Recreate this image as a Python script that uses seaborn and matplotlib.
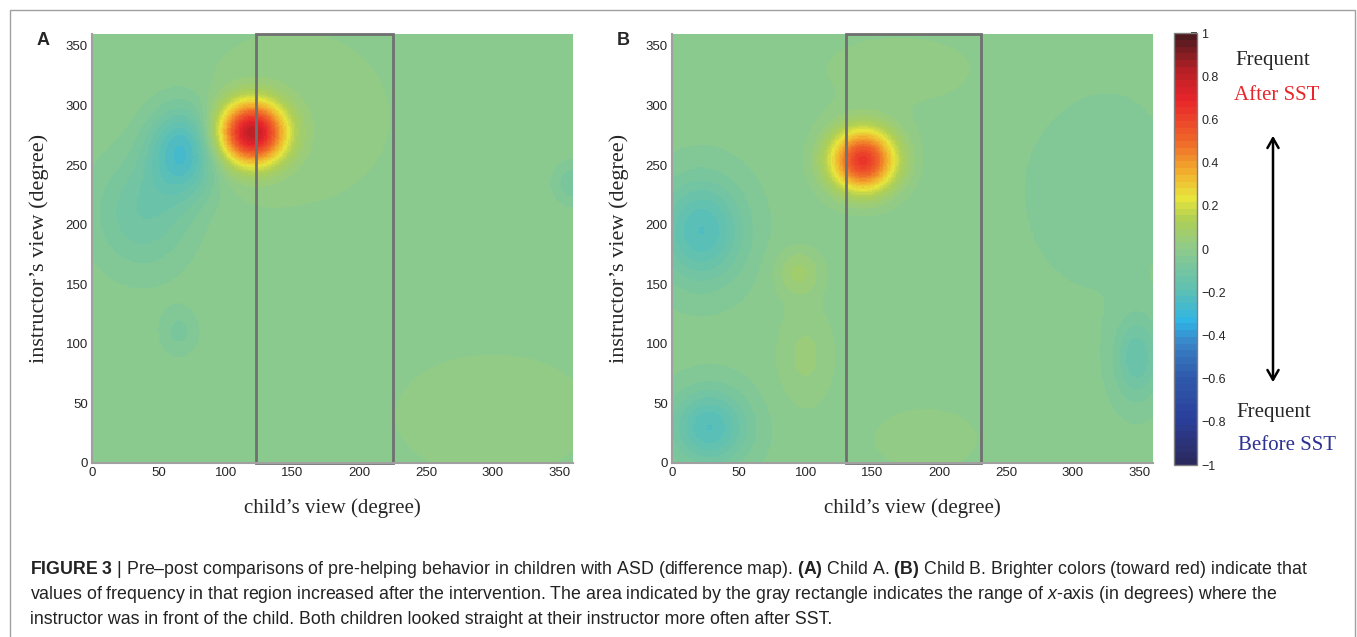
import numpy as np
import pandas as pd
import matplotlib
matplotlib.use("Agg")
import matplotlib.pyplot as plt
import seaborn as sns
from matplotlib.colors import LinearSegmentedColormap
from matplotlib.patches import Rectangle, FancyArrowPatch

# hot/cold spots
# (centre in degrees, peak value, spread in degrees)
a_cx = [120, 68, 38, 65, 300, 360, 150]
a_cy = [277, 262, 210, 110, 40, 235, 290]
a_amp = [0.80, -0.24, -0.11, -0.06, 0.035, -0.08, 0.025]
a_sx = [17, 18, 26, 10, 50, 10, 60]
a_sy = [18, 26, 34, 14, 35, 12, 60]
a_base = -0.012
a_front = [123, 225]

b_cx = [143, 22, 28, 348, 95, 100, 190, 320, 170]
b_cy = [254, 195, 30, 88, 160, 90, 20, 230, 330]
b_amp = [0.66, -0.20, -0.20, -0.13, 0.09, 0.06, 0.045, -0.03, 0.03]
b_sx = [17, 22, 20, 12, 12, 15, 30, 40, 60]
b_sy = [18, 30, 22, 25, 14, 30, 20, 60, 30]
b_base = -0.02
b_front = [130, 231]

deg_ticks = [0, 50, 100, 150, 200, 250, 300, 350]
cbar_ticks = [-1, -0.8, -0.6, -0.4, -0.2, 0, 0.2, 0.4, 0.6, 0.8, 1]
cbar_labels = ["\u22121", "\u22120.8", "\u22120.6", "\u22120.4", "\u22120.2", "0",
               "0.2", "0.4", "0.6", "0.8", "1"]

caption = [
    "$\\bf{FIGURE\\ 3}$ | Pre\u2013post comparisons of pre-helping behavior in children with ASD (difference map). "
    "$\\bf{(A)}$ Child A. $\\bf{(B)}$ Child B. Brighter colors (toward red) indicate that",
    "values of frequency in that region increased after the intervention. The area indicated by the gray rectangle "
    "indicates the range of $\\it{x}$-axis (in degrees) where the",
    "instructor was in front of the child. Both children looked straight at their instructor more often after SST.",
]


def diff_map(cx, cy, amp, sx, sy, base):
    g = np.arange(360) + 0.5
    xx, yy = np.meshgrid(g, g)
    z = np.full(xx.shape, base)
    for i in range(len(cx)):
        z += amp[i] * np.exp(-((xx - cx[i]) ** 2 / (2 * sx[i] ** 2) + (yy - cy[i]) ** 2 / (2 * sy[i] ** 2)))
    return pd.DataFrame(z, index=np.arange(360), columns=np.arange(360))


sns.set_theme(style="white")
plt.rcParams["font.family"] = ["Liberation Sans", "DejaVu Sans"]
plt.rcParams["mathtext.fontset"] = "custom"
plt.rcParams["mathtext.rm"] = "Liberation Sans"
plt.rcParams["mathtext.bf"] = "Liberation Sans:bold"
plt.rcParams["mathtext.it"] = "Liberation Sans:italic"

# muted jet, as in the printed figure
cmap = LinearSegmentedColormap.from_list("mjet", [
    (0.00, "#2b2a5e"), (0.10, "#2b3f9a"), (0.20, "#2f5aab"), (0.28, "#3a84c8"),
    (0.33, "#2fb5e6"), (0.40, "#5cbfb4"), (0.50, "#8ecb8c"), (0.57, "#b0cf55"),
    (0.62, "#e8e43c"), (0.68, "#f2b02e"), (0.75, "#ef6a2a"), (0.85, "#e8252a"),
    (0.92, "#b52026"), (1.00, "#4e1a1e")], N=64)

fig = plt.figure(figsize=(13.57, 6.37), dpi=100)
ax_a = fig.add_axes([0.0678, 0.2732, 0.3545, 0.6735])
ax_b = fig.add_axes([0.4952, 0.2732, 0.3545, 0.6735])
cax = fig.add_axes([0.8651, 0.270, 0.017, 0.678])

panels = [
    (ax_a, diff_map(a_cx, a_cy, a_amp, a_sx, a_sy, a_base), a_front, "A"),
    (ax_b, diff_map(b_cx, b_cy, b_amp, b_sx, b_sy, b_base), b_front, "B"),
]
for ax, df, front, tag in panels:
    sns.heatmap(df, ax=ax, cmap=cmap, vmin=-1, vmax=1, cbar=(tag == "B"),
                cbar_ax=cax if tag == "B" else None,
                xticklabels=False, yticklabels=False, rasterized=True)
    ax.invert_yaxis()
    ax.set_xticks(deg_ticks)
    ax.set_xticklabels([str(t) for t in deg_ticks], fontsize=9.5)
    ax.set_yticks(deg_ticks)
    ax.set_yticklabels([str(t) for t in deg_ticks], fontsize=9.5, rotation=0)
    ax.tick_params(length=0, pad=3)
    for s in ["left", "bottom"]:
        ax.spines[s].set_visible(True)
        ax.spines[s].set_color("#a0a0a0")
        ax.spines[s].set_linewidth(1.5)
    ax.add_patch(Rectangle((front[0], 0), front[1] - front[0], 360, fill=False,
                           edgecolor="#707070", lw=2, clip_on=False))
    ax.set_xlabel("child\u2019s view (degree)", family="Liberation Serif", fontsize=15, labelpad=14)
    ax.set_ylabel("instructor\u2019s view (degree)", family="Liberation Serif", fontsize=16, labelpad=12)
    ax.text(-0.115, 0.985, tag, transform=ax.transAxes, fontsize=13, fontweight="bold",
            ha="left", va="center")

cb = ax_b.collections[0].colorbar
cb.set_ticks(cbar_ticks)
cb.set_ticklabels(cbar_labels)
cb.ax.tick_params(labelsize=9, length=4, direction="in", pad=3)
cb.outline.set_edgecolor("#808080")
cb.outline.set_linewidth(1)

W, H = 1357, 637
serif = "Liberation Serif"
fig.text(1273 / W, 1 - 61 / H, "Frequent", family=serif, fontsize=15, ha="center", va="center")
fig.text(1277 / W, 1 - 95 / H, "After SST", family=serif, fontsize=15, ha="center", va="center", color="#e8262a")
fig.text(1274 / W, 1 - 413 / H, "Frequent", family=serif, fontsize=15, ha="center", va="center")
fig.text(1287 / W, 1 - 446 / H, "Before SST", family=serif, fontsize=15, ha="center", va="center", color="#2e3192")
fig.patches.append(FancyArrowPatch(
    (1273 / W, 1 - 385 / H), (1273 / W, 1 - 133 / H), transform=fig.transFigure,
    arrowstyle="<->,head_length=7,head_width=4", lw=1.8, color="black"))

for i, line in enumerate(caption):
    fig.text(30 / W, 1 - (569 + 25.5 * i) / H, line, fontsize=12.8, ha="left", va="center", color="#222222")

fig.patches.append(Rectangle((10 / W, -0.1), 1345 / W, 1.1 - 10 / H, transform=fig.transFigure,
                             fill=False, edgecolor="#a0a0a0", lw=1))

fig.savefig("out.png", dpi=100)
